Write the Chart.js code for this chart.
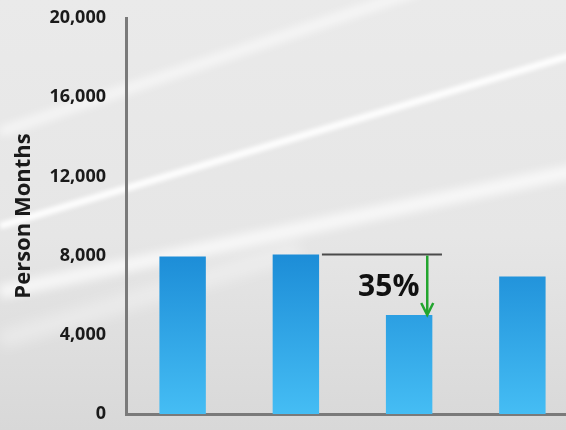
<!DOCTYPE html>
<html>
<head>
<meta charset="utf-8">
<script src="https://cdn.jsdelivr.net/npm/chart.js@4"></script>
<style>
    html, body { margin: 0; padding: 0; overflow: hidden; width: 566px; height: 430px; }
    body { background: linear-gradient(180deg, #eaeaea 0%, #e6e6e6 55%, #d8d8d8 100%); }
    #wrap { width: 579px; height: 430px; position: relative; }
</style>
</head>
<body>
<div id="wrap"><canvas id="chart"></canvas></div>
<script>
document.addEventListener('DOMContentLoaded', () => {
    // Datos
    const categories = ['1', '2', '3', '4'];
    const personMonths = [7950, 8050, 5000, 6950];
    const yTicks = [0, 4000, 8000, 12000, 16000, 20000];
    const dropLabel = '35%';

    const fontFamily = "'Open Sans', 'Liberation Sans', sans-serif";

    // Fondo: destellos blancos diagonales
    const streaks = [
        { from: [0, 226], to: [579, 53], width: 7, alpha: 0.95, blur: 2 },
        { from: [0, 132], to: [420, -10], width: 10, alpha: 0.6, blur: 4 },
        { from: [0, 292], to: [579, 170], width: 14, alpha: 0.7, blur: 5 },
        { from: [0, 340], to: [300, 250], width: 18, alpha: 0.35, blur: 7 }
    ];
    const backgroundPlugin = {
        id: 'fondo',
        beforeDraw(chart) {
            const { ctx } = chart;
            ctx.save();
            streaks.forEach(s => {
                ctx.filter = `blur(${s.blur}px)`;
                ctx.strokeStyle = `rgba(255,255,255,${s.alpha})`;
                ctx.lineWidth = s.width;
                ctx.beginPath();
                ctx.moveTo(s.from[0], s.from[1]);
                ctx.lineTo(s.to[0], s.to[1]);
                ctx.stroke();
            });
            ctx.restore();
        }
    };

    // Degradado de las barras
    const barGradient = (chart) => {
        const { ctx, chartArea } = chart;
        if (!chartArea) return '#2a9fe4';
        const g = ctx.createLinearGradient(0, chartArea.top + 230, 0, chartArea.bottom);
        g.addColorStop(0, '#1b8bd6');
        g.addColorStop(1, '#45bdf4');
        return g;
    };

    // Línea de referencia con flecha verde (caída entre barra 2 y 3)
    const dropPlugin = {
        id: 'drop',
        afterDatasetsDraw(chart) {
            const { ctx, scales: { x, y } } = chart;
            const step = x.getPixelForValue(1) - x.getPixelForValue(0);
            const fromY = y.getPixelForValue(personMonths[1]);
            const toY = y.getPixelForValue(personMonths[2]);
            const startX = x.getPixelForValue(1) + step * 0.23;
            const endX = x.getPixelForValue(2) + step * 0.29;
            const arrowX = x.getPixelForValue(2) + step * 0.16;

            ctx.save();
            ctx.strokeStyle = '#4a4a4a';
            ctx.lineWidth = 2;
            ctx.beginPath();
            ctx.moveTo(startX, fromY);
            ctx.lineTo(endX, fromY);
            ctx.stroke();

            ctx.strokeStyle = '#22a52e';
            ctx.lineWidth = 2.5;
            ctx.beginPath();
            ctx.moveTo(arrowX, fromY + 1);
            ctx.lineTo(arrowX, toY - 2);
            ctx.stroke();
            ctx.beginPath();
            ctx.moveTo(arrowX - 6, toY - 12);
            ctx.lineTo(arrowX, toY);
            ctx.lineTo(arrowX + 6, toY - 12);
            ctx.stroke();

            ctx.fillStyle = '#111';
            ctx.font = `bold 30px ${fontFamily}`;
            ctx.textAlign = 'center';
            ctx.textBaseline = 'middle';
            ctx.fillText(dropLabel, x.getPixelForValue(2) - step * 0.18, (fromY + toY) / 2 + 3);
            ctx.restore();
        }
    };

    const ctx = document.getElementById('chart').getContext('2d');
    new Chart(ctx, {
        type: 'bar',
        data: {
            labels: categories,
            datasets: [{
                data: personMonths,
                backgroundColor: (c) => barGradient(c.chart),
                categoryPercentage: 1,
                barPercentage: 0.41
            }]
        },
        options: {
            responsive: true,
            maintainAspectRatio: false,
            animation: false,
            layout: { padding: { top: 18, bottom: 16, left: 0, right: 0 } },
            plugins: { legend: { display: false }, tooltip: { enabled: false } },
            scales: {
                x: {
                    afterFit: (scale) => { scale.height = 0; },
                    grid: { display: false, drawTicks: false },
                    border: { color: '#7a7a7a', width: 3 },
                    ticks: { display: false }
                },
                y: {
                    min: 0,
                    max: 20000,
                    afterBuildTicks: (scale) => { scale.ticks = yTicks.map(v => ({ value: v })); },
                    afterFit: (scale) => {
                        scale.width = 126;
                        scale.paddingTop = 0;
                        scale.paddingBottom = 0;
                    },
                    grid: { display: false, drawTicks: false },
                    border: { color: '#7a7a7a', width: 3 },
                    ticks: {
                        padding: 20,
                        color: '#1a1a1a',
                        font: { family: fontFamily, size: 18, weight: 'bold' },
                        callback: (v) => v.toLocaleString('en-US')
                    },
                    title: {
                        display: true,
                        text: 'Person Months',
                        color: '#1a1a1a',
                        padding: { top: 11, bottom: 0 },
                        font: { family: fontFamily, size: 22, weight: 'bold' }
                    }
                }
            }
        },
        plugins: [backgroundPlugin, dropPlugin]
    });
});
</script>
</body>
</html>
